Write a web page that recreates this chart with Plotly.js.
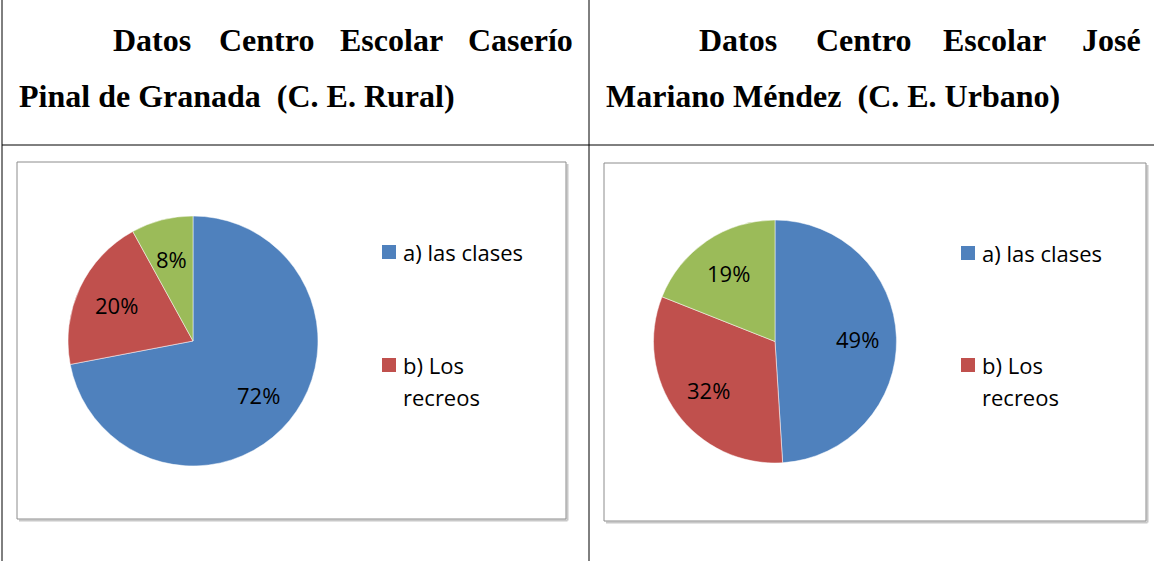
<!DOCTYPE html>
<html>
<head>
<meta charset="utf-8">
<script src="https://cdn.plot.ly/plotly-3.0.1.min.js"></script>
<style>
html,body{margin:0;padding:0;background:#fff;}
#chart{width:1154px;height:561px;}
</style>
</head>
<body>
<div id="chart"></div>
<script>
// ---- data ----
const categories = ["a) las clases", "b) Los recreos", "c) otros"];
const legendLines = [["a) las clases"], ["b) Los", "recreos"]];
const ruralValues = [72, 20, 8];
const urbanValues = [49, 32, 19];
const ruralTitle1 = ["Datos", "Centro", "Escolar", "Caserío"];
const ruralTitle2 = "Pinal de Granada  (C. E. Rural)";
const urbanTitle1 = ["Datos", "Centro", "Escolar", "José"];
const urbanTitle2 = "Mariano Méndez  (C. E. Urbano)";
const colors = ["#4F81BD", "#C0504D", "#9BBB59"];

// ---- geometry helpers ----
const W = 1154, H = 561;
const px = x => x / W;
const py = y => 1 - y / H;

const labelFont = {family: "Open Sans, Noto Sans, sans-serif", size: 22, color: "#000"};
const titleFont = {family: "Liberation Serif, Times New Roman, serif", size: 32, color: "#000"};

const shapes = [];
const annotations = [];

// pie with percentage labels placed along each slice's mid-angle (Excel-like)
function pieTrace(values, x0, x1, y0, y1) {
  const cx = (x0 + x1) / 2, cy = (y0 + y1) / 2, r = Math.min(x1 - x0, y1 - y0) / 2;
  const total = values.reduce((a, b) => a + b, 0);
  let acc = 0;
  values.forEach(v => {
    const mid = (acc + v / 2) / total * 2 * Math.PI;
    acc += v;
    const lx = cx + 0.68 * r * Math.sin(mid);
    const ly = cy - 0.68 * r * Math.cos(mid);
    annotations.push({xref: "paper", yref: "paper", x: px(lx), y: py(ly), xanchor: "center", yanchor: "middle",
      text: Math.round(v / total * 100) + "%", showarrow: false, font: labelFont});
  });
  return {
    type: "pie",
    labels: categories,
    values: values,
    sort: false,
    direction: "clockwise",
    rotation: 0,
    marker: {colors: colors, line: {color: "#ffffff", width: 0.5}},
    textinfo: "none",
    showlegend: false,
    hoverinfo: "label+percent",
    domain: {x: [px(x0), px(x1)], y: [py(y1), py(y0)]}
  };
}

const data = [
  pieTrace(ruralValues, 68, 318, 216, 466),
  pieTrace(urbanValues, 653, 897, 220, 463)
];

// table grid
function line(x0, y0, x1, y1, color, width) {
  shapes.push({type: "line", xref: "paper", yref: "paper",
    x0: px(x0), y0: py(y0), x1: px(x1), y1: py(y1),
    line: {color: color, width: width}});
}
line(2, 0, 2, H, "#000", 1);
line(589, 0, 589, H, "#000", 1);
line(2, 145, W, 145, "#000", 1);

// chart boxes
function box(x0, y0, x1, y1) {
  shapes.push({type: "line", xref: "paper", yref: "paper", x0: px(x0 + 2), y0: py(y1 + 1.5), x1: px(x1 + 1.5), y1: py(y1 + 1.5), line: {color: "#c8c8c8", width: 2}});
  shapes.push({type: "line", xref: "paper", yref: "paper", x0: px(x1 + 1.5), y0: py(y0 + 2), x1: px(x1 + 1.5), y1: py(y1 + 1.5), line: {color: "#c8c8c8", width: 2}});
  shapes.push({type: "rect", xref: "paper", yref: "paper",
    x0: px(x0), y0: py(y1), x1: px(x1), y1: py(y0),
    line: {color: "#8c8c8c", width: 1}, fillcolor: "rgba(0,0,0,0)"});
}
box(17, 162, 566, 519);
box(604, 163, 1146, 521);

// titles
function words(list, xs, y) {
  list.forEach((w, i) => annotations.push({
    xref: "paper", yref: "paper", x: px(xs[i]), y: py(y), xanchor: "left", yanchor: "middle",
    text: "<b>" + w + "</b>", showarrow: false, font: titleFont
  }));
}
words(ruralTitle1, [111, 217, 338, 466], 40);
annotations.push({xref: "paper", yref: "paper", x: px(17), y: py(96), xanchor: "left", yanchor: "middle",
  text: "<b>" + ruralTitle2 + "</b>", showarrow: false, font: titleFont});
words(urbanTitle1, [697, 814, 941, 1080], 40);
annotations.push({xref: "paper", yref: "paper", x: px(604), y: py(96), xanchor: "left", yanchor: "middle",
  text: "<b>" + urbanTitle2 + "</b>", showarrow: false, font: titleFont});

// legends (only two entries visible in the original)
function legend(sqX, textX, rows) {
  rows.forEach((r, i) => {
    const lines = legendLines[i];
    shapes.push({type: "rect", xref: "paper", yref: "paper",
      x0: px(sqX), x1: px(sqX + 14), y0: py(r + 7), y1: py(r - 7),
      line: {width: 0}, fillcolor: colors[i]});
    lines.forEach((t, j) => annotations.push({xref: "paper", yref: "paper", x: px(textX), y: py(r + j * 32), xanchor: "left", yanchor: "middle",
      align: "left", text: t, showarrow: false, font: labelFont}));
  });
}
legend(382, 401, [252, 365]);
legend(961, 980, [253, 365]);

const layout = {
  width: W, height: H,
  margin: {l: 0, r: 0, t: 0, b: 0},
  paper_bgcolor: "#fff",
  shapes: shapes,
  annotations: annotations,
  showlegend: false
};

Plotly.newPlot("chart", data, layout, {displayModeBar: false, staticPlot: true});
</script>
</body>
</html>
